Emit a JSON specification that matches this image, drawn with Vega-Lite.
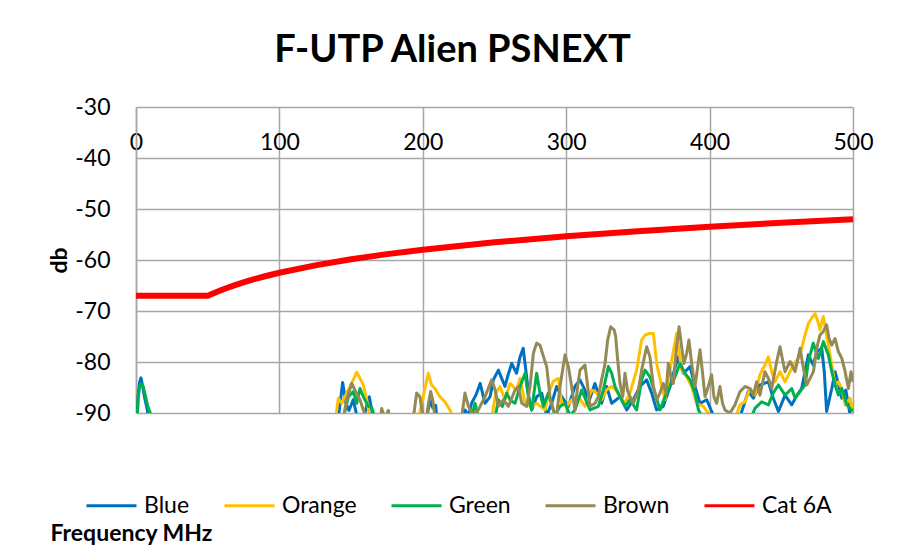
{
  "$schema": "https://vega.github.io/schema/vega-lite/v6.json",
  "autosize": {"type": "none"},
  "padding": {"left": 136, "top": 107, "right": 49, "bottom": 137},
  "width": 717,
  "height": 306,
  "background": "white",
  "title": {"text": "F-UTP Alien PSNEXT", "font": "Lato", "fontSize": 38, "fontWeight": "bold", "color": "black", "anchor": "middle", "dx": -42, "offset": 26},
  "config": {
    "font": "Lato",
    "view": {"stroke": null},
    "axis": {"labelFont": "Lato", "titleFont": "Lato", "labelColor": "black", "titleColor": "black", "gridColor": "#A6A6A6", "gridWidth": 1.5, "gridOpacity": 1}
  },
  "data": {"values": [
    {"s":"Blue","f":0,"v":-95},{"s":"Blue","f":0.7,"v":-92},{"s":"Blue","f":1.5,"v":-86.5},{"s":"Blue","f":2.5,"v":-84},{"s":"Blue","f":3.5,"v":-83.1},{"s":"Blue","f":4.5,"v":-84.5},{"s":"Blue","f":6,"v":-87},{"s":"Blue","f":8,"v":-89.5},{"s":"Blue","f":9.5,"v":-93},{"s":"Blue","f":10,"v":-95},
    {"s":"Blue","f":139,"v":-95},{"s":"Blue","f":141.1,"v":-91},{"s":"Blue","f":144.1,"v":-84},{"s":"Blue","f":146.4,"v":-88.1},{"s":"Blue","f":148.5,"v":-89.5},{"s":"Blue","f":151.5,"v":-87.4},{"s":"Blue","f":154,"v":-90.5},{"s":"Blue","f":158,"v":-92},{"s":"Blue","f":160.5,"v":-89},{"s":"Blue","f":162.7,"v":-86.8},{"s":"Blue","f":164.5,"v":-89.5},{"s":"Blue","f":166,"v":-95},
    {"s":"Blue","f":200,"v":-95},{"s":"Blue","f":203,"v":-90.5},{"s":"Blue","f":205,"v":-87.5},{"s":"Blue","f":207,"v":-89},{"s":"Blue","f":209,"v":-88.5},{"s":"Blue","f":211,"v":-95},
    {"s":"Blue","f":226,"v":-95},{"s":"Blue","f":229.4,"v":-89.4},{"s":"Blue","f":232,"v":-90.5},{"s":"Blue","f":234,"v":-88.1},{"s":"Blue","f":237,"v":-86.5},{"s":"Blue","f":240,"v":-84.2},{"s":"Blue","f":243.4,"v":-88.1},{"s":"Blue","f":246.9,"v":-86.8},{"s":"Blue","f":249.2,"v":-83.5},{"s":"Blue","f":252.7,"v":-81.6},{"s":"Blue","f":255,"v":-83.2},{"s":"Blue","f":257.3,"v":-84.8},{"s":"Blue","f":259.5,"v":-82.5},{"s":"Blue","f":262,"v":-80.3},{"s":"Blue","f":265.4,"v":-82.2},{"s":"Blue","f":267.8,"v":-79},{"s":"Blue","f":270,"v":-77.3},{"s":"Blue","f":272.4,"v":-82.9},{"s":"Blue","f":274,"v":-87},{"s":"Blue","f":275.9,"v":-89.4},{"s":"Blue","f":279.4,"v":-86.8},{"s":"Blue","f":282.9,"v":-86.1},{"s":"Blue","f":286.4,"v":-90.5},{"s":"Blue","f":289.9,"v":-88.1},{"s":"Blue","f":293.3,"v":-84.8},{"s":"Blue","f":296.8,"v":-86.8},{"s":"Blue","f":301.5,"v":-88.7},{"s":"Blue","f":306.1,"v":-84.8},{"s":"Blue","f":309.6,"v":-83.5},{"s":"Blue","f":313.1,"v":-85.5},{"s":"Blue","f":315.4,"v":-88.1},{"s":"Blue","f":320,"v":-84.2},{"s":"Blue","f":324.7,"v":-88.1},{"s":"Blue","f":328.2,"v":-84.8},{"s":"Blue","f":331.7,"v":-88.1},{"s":"Blue","f":334.5,"v":-87.5},{"s":"Blue","f":337.5,"v":-86.8},{"s":"Blue","f":342.2,"v":-89.4},{"s":"Blue","f":346.8,"v":-87.4},{"s":"Blue","f":351.4,"v":-84.8},{"s":"Blue","f":356.1,"v":-83.5},{"s":"Blue","f":359.6,"v":-86.1},{"s":"Blue","f":363,"v":-89.4},{"s":"Blue","f":367.7,"v":-88.7},{"s":"Blue","f":372.4,"v":-84.8},{"s":"Blue","f":375.5,"v":-81.5},{"s":"Blue","f":378.2,"v":-79},{"s":"Blue","f":381.7,"v":-82.2},{"s":"Blue","f":386.4,"v":-80.9},{"s":"Blue","f":389.8,"v":-84.8},{"s":"Blue","f":393.3,"v":-88.1},{"s":"Blue","f":398,"v":-87.4},{"s":"Blue","f":402.6,"v":-90.5},{"s":"Blue","f":405,"v":-95},
    {"s":"Blue","f":419,"v":-95},{"s":"Blue","f":422.4,"v":-89.7},{"s":"Blue","f":427,"v":-85.8},{"s":"Blue","f":430.5,"v":-87.1},{"s":"Blue","f":435.1,"v":-84.5},{"s":"Blue","f":441,"v":-83.9},{"s":"Blue","f":444.4,"v":-87.1},{"s":"Blue","f":448,"v":-89.7},{"s":"Blue","f":452.6,"v":-86.5},{"s":"Blue","f":457.3,"v":-88.4},{"s":"Blue","f":461,"v":-86.5},{"s":"Blue","f":464.2,"v":-85.2},{"s":"Blue","f":468.9,"v":-78.6},{"s":"Blue","f":472.3,"v":-80.6},{"s":"Blue","f":474.7,"v":-78},{"s":"Blue","f":478.2,"v":-77.3},{"s":"Blue","f":480,"v":-82},{"s":"Blue","f":481.6,"v":-89.7},{"s":"Blue","f":485.2,"v":-85.2},{"s":"Blue","f":487.5,"v":-81.9},{"s":"Blue","f":490,"v":-84.5},{"s":"Blue","f":492.2,"v":-87.1},{"s":"Blue","f":495,"v":-85.5},{"s":"Blue","f":498,"v":-90.4},{"s":"Blue","f":500,"v":-92},

    {"s":"Orange","f":135,"v":-95},{"s":"Orange","f":138.8,"v":-92},{"s":"Orange","f":141.1,"v":-87.1},{"s":"Orange","f":143.4,"v":-88.1},{"s":"Orange","f":146.9,"v":-86.1},{"s":"Orange","f":150.4,"v":-84.2},{"s":"Orange","f":153.9,"v":-82},{"s":"Orange","f":156.2,"v":-83.2},{"s":"Orange","f":158.5,"v":-84.5},{"s":"Orange","f":160.9,"v":-87.4},{"s":"Orange","f":163.2,"v":-91},{"s":"Orange","f":165,"v":-95},
    {"s":"Orange","f":194,"v":-95},{"s":"Orange","f":197,"v":-91},{"s":"Orange","f":200.3,"v":-86.8},{"s":"Orange","f":203.8,"v":-82.2},{"s":"Orange","f":206.1,"v":-84.5},{"s":"Orange","f":208.5,"v":-85.2},{"s":"Orange","f":211.9,"v":-86.8},{"s":"Orange","f":215.4,"v":-87.8},{"s":"Orange","f":218.9,"v":-89.4},{"s":"Orange","f":221.3,"v":-91},{"s":"Orange","f":223,"v":-95},
    {"s":"Orange","f":245,"v":-95},{"s":"Orange","f":248,"v":-91},{"s":"Orange","f":251,"v":-86},{"s":"Orange","f":253.8,"v":-84.8},{"s":"Orange","f":257.3,"v":-87.4},{"s":"Orange","f":260.8,"v":-84.2},{"s":"Orange","f":265.4,"v":-85.5},{"s":"Orange","f":267.8,"v":-83.2},{"s":"Orange","f":271.3,"v":-88.1},{"s":"Orange","f":275.9,"v":-88.7},{"s":"Orange","f":279.4,"v":-88.1},{"s":"Orange","f":285.2,"v":-89.4},{"s":"Orange","f":288,"v":-86},{"s":"Orange","f":291,"v":-83.8},{"s":"Orange","f":294.5,"v":-83.2},{"s":"Orange","f":296.8,"v":-88.1},{"s":"Orange","f":300.3,"v":-88.7},{"s":"Orange","f":303.8,"v":-87.4},{"s":"Orange","f":308.4,"v":-86.8},{"s":"Orange","f":313.1,"v":-88.7},{"s":"Orange","f":317.7,"v":-85.5},{"s":"Orange","f":321.2,"v":-86.1},{"s":"Orange","f":324.7,"v":-87.4},{"s":"Orange","f":328,"v":-85.5},{"s":"Orange","f":331.7,"v":-84.8},{"s":"Orange","f":334.5,"v":-85.5},{"s":"Orange","f":337.5,"v":-86.8},{"s":"Orange","f":341,"v":-88},{"s":"Orange","f":344.5,"v":-86.1},{"s":"Orange","f":349.1,"v":-81.6},{"s":"Orange","f":352.6,"v":-75.7},{"s":"Orange","f":355,"v":-74.7},{"s":"Orange","f":358.4,"v":-74.4},{"s":"Orange","f":360.8,"v":-74.4},{"s":"Orange","f":363.1,"v":-80.3},{"s":"Orange","f":366.6,"v":-84.8},{"s":"Orange","f":368.9,"v":-87.4},{"s":"Orange","f":371.5,"v":-83},{"s":"Orange","f":373.6,"v":-79.6},{"s":"Orange","f":377,"v":-74.4},{"s":"Orange","f":380.5,"v":-81.6},{"s":"Orange","f":384,"v":-82.9},{"s":"Orange","f":387.5,"v":-84.8},{"s":"Orange","f":391,"v":-88.1},{"s":"Orange","f":395.6,"v":-88.7},{"s":"Orange","f":400.3,"v":-90.5},{"s":"Orange","f":403,"v":-95},
    {"s":"Orange","f":415,"v":-95},{"s":"Orange","f":418,"v":-91},{"s":"Orange","f":421.2,"v":-88.4},{"s":"Orange","f":424.7,"v":-87.8},{"s":"Orange","f":428.2,"v":-85.2},{"s":"Orange","f":431.6,"v":-86.5},{"s":"Orange","f":435.1,"v":-82.5},{"s":"Orange","f":438.6,"v":-80.6},{"s":"Orange","f":441,"v":-79},{"s":"Orange","f":443.3,"v":-81.9},{"s":"Orange","f":445.6,"v":-83.9},{"s":"Orange","f":449.1,"v":-81.9},{"s":"Orange","f":452.6,"v":-83.9},{"s":"Orange","f":456.1,"v":-81.9},{"s":"Orange","f":458.4,"v":-80.6},{"s":"Orange","f":461.9,"v":-79.3},{"s":"Orange","f":464.2,"v":-77.3},{"s":"Orange","f":466.6,"v":-74.7},{"s":"Orange","f":468.9,"v":-72.4},{"s":"Orange","f":471.2,"v":-71.4},{"s":"Orange","f":473.5,"v":-70.5},{"s":"Orange","f":475.5,"v":-72},{"s":"Orange","f":477,"v":-73.7},{"s":"Orange","f":479.3,"v":-71.1},{"s":"Orange","f":482.8,"v":-76.7},{"s":"Orange","f":485.2,"v":-80.6},{"s":"Orange","f":487.5,"v":-84.5},{"s":"Orange","f":489.8,"v":-83.9},{"s":"Orange","f":492.2,"v":-85.2},{"s":"Orange","f":494.5,"v":-88.4},{"s":"Orange","f":498,"v":-87.1},{"s":"Orange","f":500,"v":-89.7},

    {"s":"Green","f":0,"v":-95},{"s":"Green","f":0.8,"v":-91},{"s":"Green","f":1.5,"v":-87},{"s":"Green","f":2.5,"v":-85},{"s":"Green","f":3.5,"v":-84.3},{"s":"Green","f":5,"v":-84.8},{"s":"Green","f":6.5,"v":-86.5},{"s":"Green","f":8,"v":-88.5},{"s":"Green","f":10,"v":-90},{"s":"Green","f":11,"v":-95},
    {"s":"Green","f":142,"v":-95},{"s":"Green","f":144.6,"v":-91},{"s":"Green","f":148.1,"v":-86.8},{"s":"Green","f":151.5,"v":-85.8},{"s":"Green","f":153.9,"v":-88.1},{"s":"Green","f":156.2,"v":-85.2},{"s":"Green","f":158.5,"v":-86.8},{"s":"Green","f":162,"v":-88.7},{"s":"Green","f":164.3,"v":-88.9},{"s":"Green","f":166.7,"v":-91},{"s":"Green","f":168,"v":-95},
    {"s":"Green","f":231,"v":-95},{"s":"Green","f":234,"v":-91},{"s":"Green","f":236.4,"v":-88.1},{"s":"Green","f":239,"v":-91},{"s":"Green","f":241,"v":-95},
    {"s":"Green","f":248,"v":-95},{"s":"Green","f":250.4,"v":-91},{"s":"Green","f":252.7,"v":-87.4},{"s":"Green","f":255.5,"v":-88.7},{"s":"Green","f":258.5,"v":-86.1},{"s":"Green","f":261,"v":-87.5},{"s":"Green","f":264.3,"v":-88.1},{"s":"Green","f":267.8,"v":-84.8},{"s":"Green","f":271.3,"v":-82.2},{"s":"Green","f":273.6,"v":-86.8},{"s":"Green","f":275.9,"v":-89.4},{"s":"Green","f":279.4,"v":-82.2},{"s":"Green","f":281.7,"v":-86.1},{"s":"Green","f":284.1,"v":-88.7},{"s":"Green","f":287.5,"v":-86.1},{"s":"Green","f":292.2,"v":-90.5},{"s":"Green","f":295.7,"v":-88.7},{"s":"Green","f":299.2,"v":-88.1},{"s":"Green","f":302.7,"v":-90.5},{"s":"Green","f":306.1,"v":-89.4},{"s":"Green","f":310.8,"v":-85.5},{"s":"Green","f":313.6,"v":-87.4},{"s":"Green","f":316.6,"v":-89.4},{"s":"Green","f":322.4,"v":-88.7},{"s":"Green","f":325.9,"v":-85.5},{"s":"Green","f":329.4,"v":-80.9},{"s":"Green","f":331.7,"v":-82.2},{"s":"Green","f":334,"v":-84.8},{"s":"Green","f":337.5,"v":-86.8},{"s":"Green","f":341,"v":-88.7},{"s":"Green","f":344.5,"v":-87.4},{"s":"Green","f":349.1,"v":-89.4},{"s":"Green","f":352.6,"v":-83.5},{"s":"Green","f":355,"v":-81.6},{"s":"Green","f":358.4,"v":-82.9},{"s":"Green","f":361.9,"v":-86.1},{"s":"Green","f":365.4,"v":-89.4},{"s":"Green","f":368.9,"v":-86.8},{"s":"Green","f":372.4,"v":-84.8},{"s":"Green","f":375.9,"v":-82.9},{"s":"Green","f":379.4,"v":-80.3},{"s":"Green","f":382.8,"v":-82.2},{"s":"Green","f":386.4,"v":-83.5},{"s":"Green","f":389.8,"v":-86.1},{"s":"Green","f":392.2,"v":-89.4},{"s":"Green","f":395.6,"v":-91},{"s":"Green","f":398,"v":-95},
    {"s":"Green","f":426,"v":-95},{"s":"Green","f":429,"v":-91},{"s":"Green","f":431.6,"v":-89.1},{"s":"Green","f":436.3,"v":-87.8},{"s":"Green","f":441,"v":-88.4},{"s":"Green","f":444.5,"v":-86},{"s":"Green","f":448,"v":-84.5},{"s":"Green","f":452.6,"v":-86.5},{"s":"Green","f":457.3,"v":-85.2},{"s":"Green","f":459.6,"v":-87.1},{"s":"Green","f":463.1,"v":-85.8},{"s":"Green","f":466.6,"v":-84.5},{"s":"Green","f":468.9,"v":-79.9},{"s":"Green","f":472.3,"v":-76.3},{"s":"Green","f":475.9,"v":-79.3},{"s":"Green","f":479.3,"v":-76},{"s":"Green","f":482.8,"v":-78.6},{"s":"Green","f":485.2,"v":-81.9},{"s":"Green","f":487.5,"v":-84.5},{"s":"Green","f":489.8,"v":-86.5},{"s":"Green","f":492.2,"v":-85.2},{"s":"Green","f":495.7,"v":-88.4},{"s":"Green","f":500,"v":-89.7},

    {"s":"Brown","f":142,"v":-95},{"s":"Brown","f":144.6,"v":-91},{"s":"Brown","f":146.9,"v":-87.4},{"s":"Brown","f":150.4,"v":-84.2},{"s":"Brown","f":152.7,"v":-85.5},{"s":"Brown","f":156.2,"v":-87.4},{"s":"Brown","f":158.5,"v":-89.4},{"s":"Brown","f":160.9,"v":-91},{"s":"Brown","f":163,"v":-95},
    {"s":"Brown","f":169,"v":-95},{"s":"Brown","f":171.3,"v":-89.1},{"s":"Brown","f":173.5,"v":-91},{"s":"Brown","f":176,"v":-89.5},{"s":"Brown","f":178,"v":-95},
    {"s":"Brown","f":192,"v":-95},{"s":"Brown","f":193.4,"v":-91},{"s":"Brown","f":195.7,"v":-86.1},{"s":"Brown","f":198,"v":-86.8},{"s":"Brown","f":200.3,"v":-91},{"s":"Brown","f":202,"v":-92},{"s":"Brown","f":204,"v":-88},{"s":"Brown","f":205.5,"v":-85.8},{"s":"Brown","f":207,"v":-87.5},{"s":"Brown","f":209,"v":-92},{"s":"Brown","f":211,"v":-95},
    {"s":"Brown","f":225,"v":-95},{"s":"Brown","f":227,"v":-91},{"s":"Brown","f":229.4,"v":-86.1},{"s":"Brown","f":231.8,"v":-88.7},{"s":"Brown","f":235.2,"v":-90.5},{"s":"Brown","f":238.7,"v":-89.4},{"s":"Brown","f":243.4,"v":-86.8},{"s":"Brown","f":248,"v":-83.5},{"s":"Brown","f":250.4,"v":-85.5},{"s":"Brown","f":252.7,"v":-88.7},{"s":"Brown","f":256.2,"v":-87.4},{"s":"Brown","f":259.7,"v":-88.7},{"s":"Brown","f":264.3,"v":-85.5},{"s":"Brown","f":266.6,"v":-84.8},{"s":"Brown","f":269,"v":-88.1},{"s":"Brown","f":272.5,"v":-88.7},{"s":"Brown","f":274.8,"v":-84.8},{"s":"Brown","f":277.1,"v":-78.3},{"s":"Brown","f":279.4,"v":-76.3},{"s":"Brown","f":281.7,"v":-76.7},{"s":"Brown","f":284.1,"v":-78.9},{"s":"Brown","f":286.4,"v":-80.9},{"s":"Brown","f":288.7,"v":-86.8},{"s":"Brown","f":291,"v":-89.4},{"s":"Brown","f":293.3,"v":-90.5},{"s":"Brown","f":295.7,"v":-84.8},{"s":"Brown","f":299.2,"v":-78.6},{"s":"Brown","f":301.5,"v":-80.9},{"s":"Brown","f":303.8,"v":-84.8},{"s":"Brown","f":306.1,"v":-89.4},{"s":"Brown","f":308,"v":-84.8},{"s":"Brown","f":309.6,"v":-81.6},{"s":"Brown","f":313.1,"v":-80.6},{"s":"Brown","f":315,"v":-84.8},{"s":"Brown","f":316.6,"v":-88.7},{"s":"Brown","f":320.1,"v":-88.1},{"s":"Brown","f":322.4,"v":-86.8},{"s":"Brown","f":324.7,"v":-83.5},{"s":"Brown","f":327.1,"v":-80.3},{"s":"Brown","f":328.9,"v":-75.7},{"s":"Brown","f":331,"v":-73.1},{"s":"Brown","f":333.4,"v":-73.7},{"s":"Brown","f":334.5,"v":-75},{"s":"Brown","f":335.7,"v":-79},{"s":"Brown","f":337.5,"v":-84.2},{"s":"Brown","f":339.4,"v":-86.8},{"s":"Brown","f":341,"v":-82.2},{"s":"Brown","f":342.7,"v":-85.5},{"s":"Brown","f":344.5,"v":-86.8},{"s":"Brown","f":346.8,"v":-88.1},{"s":"Brown","f":350.3,"v":-85.5},{"s":"Brown","f":352.6,"v":-81.6},{"s":"Brown","f":356.1,"v":-77},{"s":"Brown","f":358.4,"v":-79},{"s":"Brown","f":360.8,"v":-84.8},{"s":"Brown","f":363.1,"v":-87.4},{"s":"Brown","f":365.4,"v":-86.1},{"s":"Brown","f":367.7,"v":-84.2},{"s":"Brown","f":369.6,"v":-86.1},{"s":"Brown","f":371.2,"v":-80.3},{"s":"Brown","f":373.1,"v":-82.9},{"s":"Brown","f":374.7,"v":-84.2},{"s":"Brown","f":377,"v":-77},{"s":"Brown","f":378.7,"v":-73.1},{"s":"Brown","f":380.5,"v":-77},{"s":"Brown","f":382.1,"v":-80.3},{"s":"Brown","f":384,"v":-78.3},{"s":"Brown","f":385.6,"v":-75.7},{"s":"Brown","f":387.5,"v":-80.3},{"s":"Brown","f":389.8,"v":-84.8},{"s":"Brown","f":391.4,"v":-81.6},{"s":"Brown","f":393.3,"v":-77.6},{"s":"Brown","f":395.1,"v":-82.2},{"s":"Brown","f":396.8,"v":-86.8},{"s":"Brown","f":399.1,"v":-84.8},{"s":"Brown","f":401.4,"v":-82.5},{"s":"Brown","f":403,"v":-86.8},{"s":"Brown","f":404.9,"v":-88.1},{"s":"Brown","f":407.2,"v":-84.8},{"s":"Brown","f":409,"v":-88.1},{"s":"Brown","f":410.7,"v":-89.4},{"s":"Brown","f":414.2,"v":-90},{"s":"Brown","f":417.7,"v":-88.4},{"s":"Brown","f":421.2,"v":-85.8},{"s":"Brown","f":424.7,"v":-84.8},{"s":"Brown","f":428.2,"v":-85.2},{"s":"Brown","f":430.5,"v":-86.5},{"s":"Brown","f":432.8,"v":-83.9},{"s":"Brown","f":435.1,"v":-86.5},{"s":"Brown","f":438.6,"v":-81.9},{"s":"Brown","f":441,"v":-83.2},{"s":"Brown","f":443.3,"v":-85.2},{"s":"Brown","f":446.8,"v":-79.9},{"s":"Brown","f":449.1,"v":-77},{"s":"Brown","f":450.7,"v":-79.3},{"s":"Brown","f":452.6,"v":-81.9},{"s":"Brown","f":456.1,"v":-79.9},{"s":"Brown","f":459.6,"v":-81.9},{"s":"Brown","f":463.1,"v":-77.3},{"s":"Brown","f":465.4,"v":-81.2},{"s":"Brown","f":467.8,"v":-84.5},{"s":"Brown","f":470.1,"v":-83.2},{"s":"Brown","f":472.4,"v":-81.9},{"s":"Brown","f":474.7,"v":-77.3},{"s":"Brown","f":477,"v":-74.7},{"s":"Brown","f":479.3,"v":-74},{"s":"Brown","f":481.6,"v":-72.7},{"s":"Brown","f":483.3,"v":-75.4},{"s":"Brown","f":485.2,"v":-76.7},{"s":"Brown","f":487.5,"v":-75.4},{"s":"Brown","f":489.8,"v":-78},{"s":"Brown","f":492.2,"v":-79.3},{"s":"Brown","f":494.5,"v":-81.9},{"s":"Brown","f":496.8,"v":-85.2},{"s":"Brown","f":498.6,"v":-81.9},{"s":"Brown","f":500,"v":-83.9},

    {"s":"Cat 6A","f":0,"v":-67},{"s":"Cat 6A","f":50,"v":-67},{"s":"Cat 6A","f":60,"v":-65.83},{"s":"Cat 6A","f":70,"v":-64.82},{"s":"Cat 6A","f":80,"v":-63.95},{"s":"Cat 6A","f":90,"v":-63.19},{"s":"Cat 6A","f":100,"v":-62.5},{"s":"Cat 6A","f":125,"v":-61.05},{"s":"Cat 6A","f":150,"v":-59.86},{"s":"Cat 6A","f":175,"v":-58.85},{"s":"Cat 6A","f":200,"v":-57.98},{"s":"Cat 6A","f":250,"v":-56.53},{"s":"Cat 6A","f":300,"v":-55.34},{"s":"Cat 6A","f":350,"v":-54.34},{"s":"Cat 6A","f":400,"v":-53.47},{"s":"Cat 6A","f":450,"v":-52.7},{"s":"Cat 6A","f":500,"v":-52.01}
  ]},
  "encoding": {
    "x": {"field": "f", "type": "quantitative",
      "scale": {"domain": [0, 500], "nice": false, "zero": false},
      "axis": {"orient": "top", "values": [0, 100, 200, 300, 400, 500], "grid": true, "domain": false, "ticks": false, "tickSize": 0,
        "labelPadding": -24, "labelBaseline": "top", "labelFlush": false, "labelOverlap": false, "labelFontSize": 23, "labelFont": "Lato",
        "title": "Frequency MHz", "titleFontSize": 23, "titleFontWeight": "bold", "titleAngle": 0, "titleAlign": "left", "titleBaseline": "middle", "titleAnchor": "start", "titleX": -86, "titleY": 426}},
    "y": {"field": "v", "type": "quantitative",
      "scale": {"domain": [-90, -30], "nice": false, "zero": false},
      "axis": {"values": [-90, -80, -70, -60, -50, -40, -30], "labelExpr": "'' + datum.value", "grid": true, "domain": true, "domainColor": "#A6A6A6", "domainWidth": 1.5, "ticks": false, "tickSize": 0,
        "labelPadding": 26, "labelFontSize": 23, "labelFont": "Lato",
        "title": "db", "titleFontSize": 23, "titleFontWeight": "bold", "titlePadding": 3}},
    "color": {"field": "s", "type": "nominal",
      "scale": {"domain": ["Blue", "Orange", "Green", "Brown", "Cat 6A"], "range": ["#0070C0", "#FFC000", "#00B050", "#948A54", "#FF0000"]},
      "legend": {"orient": "none", "legendX": -51, "legendY": 372, "direction": "horizontal", "title": null, "symbolType": "stroke", "symbolSize": 2500, "symbolStrokeWidth": 3,
        "labelFontSize": 23, "labelFont": "Lato", "labelColor": "black", "columnPadding": 28, "labelOffset": 6}}
  },
  "layer": [
    {"transform": [{"filter": "datum.s === 'Blue'"}], "mark": {"type": "line", "clip": true, "strokeJoin": "round", "strokeWidth": 3}},
    {"transform": [{"filter": "datum.s === 'Orange'"}], "mark": {"type": "line", "clip": true, "strokeJoin": "round", "strokeWidth": 3}},
    {"transform": [{"filter": "datum.s === 'Green'"}], "mark": {"type": "line", "clip": true, "strokeJoin": "round", "strokeWidth": 3}},
    {"transform": [{"filter": "datum.s === 'Brown'"}], "mark": {"type": "line", "clip": true, "strokeJoin": "round", "strokeWidth": 3}},
    {"transform": [{"filter": "datum.s === 'Cat 6A'"}], "mark": {"type": "line", "clip": true, "strokeJoin": "round", "strokeWidth": 6}}
  ]
}
